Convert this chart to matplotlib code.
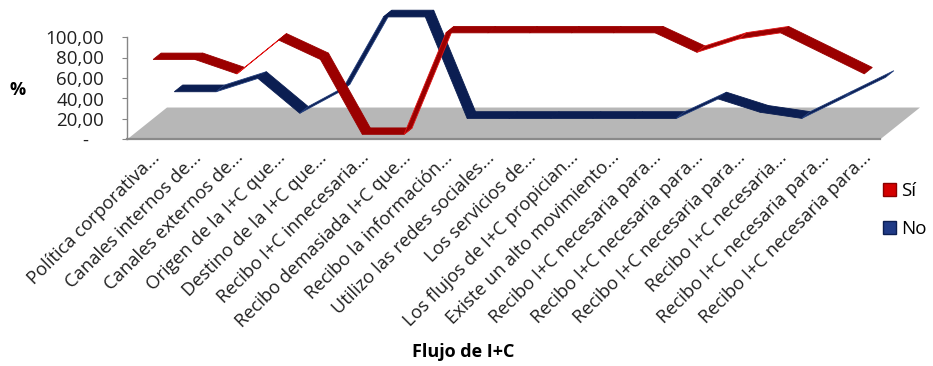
import matplotlib
matplotlib.use("Agg")
import matplotlib.pyplot as plt
from matplotlib.patches import Polygon, Patch
from matplotlib import transforms

plt.rcParams['font.family'] = ['Open Sans', 'DejaVu Sans']

categorias = ["Política corporativa...", "Canales internos de...", "Canales externos de...",
              "Origen de la I+C que...", "Destino de la I+C que...", "Recibo I+C innecesaria...",
              "Recibo demasiada I+C que...", "Recibo la información...", "Utilizo las redes sociales...",
              "Los servicios de...", "Los flujos de I+C propician...", "Existe un alto movimiento...",
              "Recibo I+C necesaria para...", "Recibo I+C necesaria para...", "Recibo I+C necesaria para...",
              "Recibo I+C necesaria...", "Recibo I+C necesaria para...", "Recibo I+C necesaria para..."]
si = [74, 74, 60, 93, 74, 1, 1, 100, 100, 100, 100, 100, 100, 81, 94, 100, 80, 60]
no = [26, 26, 39, 5, 27, 99, 99, 0, 0, 0, 0, 0, 0, 19, 6, 0, 20, 40]
y_ticks = [0, 20, 40, 60, 80, 100]
y_labels = ["-   ", "20,00", "40,00", "60,00", "80,00", "100,00"]

# oblique 3D look: depth 0..1 shifts points right and up (in data units)
DX = 0.956
DY = 31.2


def punto(x, v, d):
    return (x + d * DX, v + d * DY)


def cinta(ax, vals, d1, d2, color, borde_sube, z):
    for i in range(len(vals) - 1):
        pts = [punto(i, vals[i], d1), punto(i + 1, vals[i + 1], d1),
               punto(i + 1, vals[i + 1], d2), punto(i, vals[i], d2)]
        ec = borde_sube if vals[i + 1] > vals[i] + 5 else color
        ax.add_patch(Polygon(pts, closed=True, facecolor=color, edgecolor=ec,
                             lw=0.6, clip_on=False, zorder=z))


fig = plt.figure(figsize=(9.33, 3.66), dpi=100)
ax = fig.add_axes([127 / 933, 1 - 139.5 / 366, 753 / 933, 102.5 / 366])
ax.set_xlim(-0.5, 17.5)
ax.set_ylim(0, 100)
n = len(categorias)

# floor
suelo = [punto(-0.5, 0, 0), punto(n - 0.5, 0, 0), punto(n - 0.5, 0, 1), punto(-0.5, 0, 1)]
ax.add_patch(Polygon(suelo, closed=True, facecolor='#B7B7B7', edgecolor='none',
                     clip_on=False, zorder=1))

# back row first, front row on top
cinta(ax, no, 0.66, 0.87, '#0B1E52', '#24407E', 3)
cinta(ax, si, 0.13, 0.33, '#9B0000', '#E01515', 4)

for s in ['top', 'right']:
    ax.spines[s].set_visible(False)
ax.spines['bottom'].set_color('#8A8A8A')
ax.spines['bottom'].set_linewidth(1.6)
ax.spines['bottom'].set_zorder(2)
ax.spines['left'].set_color('#868686')
ax.spines['left'].set_linewidth(1.0)

ax.set_yticks(y_ticks)
ax.set_yticklabels(y_labels, fontsize=13.5, color='#202020')
ax.tick_params(axis='y', direction='out', length=3.5, color='#868686', pad=13)

ax.set_xticks(range(n))
ax.set_xticklabels(categorias, fontsize=13.2, rotation=45, ha='right', va='center',
                   rotation_mode='anchor', color='#202020')
ax.tick_params(axis='x', length=0, pad=11)
desp = transforms.ScaledTranslation(9 / 100, 0, fig.dpi_scale_trans)
for lab in ax.get_xticklabels():
    lab.set_transform(lab.get_transform() + desp)

fig.text(18 / 933, 1 - 90 / 366, "%", fontsize=13, fontweight='bold', ha='center', va='center')
fig.text(463 / 933, 1 - 352 / 366, "Flujo de I+C", fontsize=13, fontweight='bold',
         ha='center', va='center')

handles = [Patch(facecolor='#D40000', edgecolor='#8A0000'),
           Patch(facecolor='#1F3A86', edgecolor='#0B1E52')]
fig.legend(handles, ["Sí", "No"], loc='center left', bbox_to_anchor=(875 / 933, 1 - 210 / 366),
           frameon=False, fontsize=13.5, handlelength=0.7, handleheight=0.7,
           handletextpad=0.3, labelspacing=1.1, borderaxespad=0)

fig.savefig("out.png", dpi=100)
